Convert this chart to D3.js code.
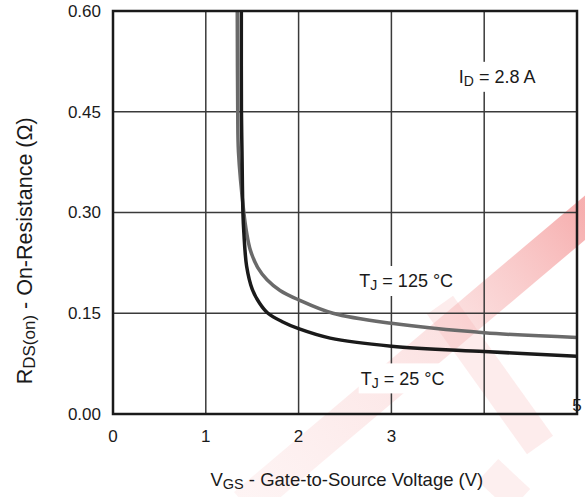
<!DOCTYPE html>
<meta charset="utf-8">
<script src="https://d3js.org/d3.v7.min.js"></script>
<style>
  body { margin: 0; background: #fff; }
  text { font-family: "Liberation Sans", Arial, sans-serif; fill: #1a1a1a; }
</style>
<div id="my_dataviz"></div>
<script>

// data
var vgsTicks = [0, 1, 2, 3, 4, 5];
var vgsTickLabels = ["0", "1", "2", "3", "", "5"];
var rTicks = [0, 0.15, 0.30, 0.45, 0.60];
var rTickLabels = ["0.00", "0.15", "0.30", "0.45", "0.60"];

// T_J = 25 °C  [VGS, RDS(on)]
var curve25 = [[1.383, 0.60], [1.384, 0.45], [1.39, 0.39], [1.40, 0.30], [1.41, 0.27],
  [1.44, 0.22], [1.50, 0.186], [1.58, 0.165], [1.67, 0.150], [1.83, 0.137],
  [2.0, 0.127], [2.34, 0.113], [3.0, 0.101], [4.0, 0.093], [5.0, 0.086]];
// T_J = 125 °C
var curve125 = [[1.339, 0.60], [1.344, 0.45], [1.352, 0.39], [1.41, 0.30], [1.44, 0.27],
  [1.48, 0.244], [1.56, 0.218], [1.66, 0.200], [1.80, 0.184], [2.0, 0.170],
  [2.37, 0.150], [3.0, 0.135], [4.0, 0.121], [5.0, 0.114]];

var labels = [
  {main: "I", sub: "D", rest: " = 2.8  A", v: 4.14, r: 0.502},
  {main: "T", sub: "J", rest: " = 125 °C", v: 3.16, r: 0.198},
  {main: "T", sub: "J", rest: " = 25 °C", v: 3.12, r: 0.053}
];

var margin = {top: 11, right: 8, bottom: 83, left: 113},
  width = 585 - margin.left - margin.right,
  height = 497 - margin.top - margin.bottom;

var root = d3.select("#my_dataviz")
  .append("svg")
  .attr("width", 585)
  .attr("height", 497);

// faint watermark in the background
var defs = root.append("defs");
var grad = defs.append("linearGradient")
  .attr("id", "wm")
  .attr("gradientUnits", "userSpaceOnUse")
  .attr("x1", 250).attr("y1", 497).attr("x2", 585).attr("y2", 215);
grad.append("stop").attr("offset", 0).attr("stop-color", "#f6b4b4").attr("stop-opacity", 0.15);
grad.append("stop").attr("offset", 0.6).attr("stop-color", "#f29090").attr("stop-opacity", 0.27);
grad.append("stop").attr("offset", 1).attr("stop-color", "#ee6060").attr("stop-opacity", 0.5);

var wm = root.append("g");
wm.append("line")
  .attr("x1", 245).attr("y1", 505).attr("x2", 600).attr("y2", 205)
  .attr("stroke", "url(#wm)").attr("stroke-width", 34);
wm.append("line")
  .attr("x1", 440).attr("y1", 305).attr("x2", 540).attr("y2", 445)
  .attr("stroke", "#f4a8a8").attr("stroke-opacity", 0.22).attr("stroke-width", 32);
wm.append("line")
  .attr("x1", 488).attr("y1", 470).attr("x2", 520).attr("y2", 500)
  .attr("stroke", "#f4b0b0").attr("stroke-opacity", 0.2).attr("stroke-width", 30);

var svg = root.append("g")
  .attr("transform", "translate(" + margin.left + "," + margin.top + ")");

var x = d3.scaleLinear().domain([0, 5]).range([0, width]);
var y = d3.scaleLinear().domain([0, 0.6]).range([height, 0]);

// grid
svg.selectAll(".vgrid")
  .data(vgsTicks.slice(1, -1))
  .enter().append("line")
  .attr("x1", function(d) { return x(d); })
  .attr("x2", function(d) { return x(d); })
  .attr("y1", 0).attr("y2", height)
  .attr("stroke", "#3a3a3a").attr("stroke-width", 1.5);

svg.selectAll(".hgrid")
  .data(rTicks.slice(1, -1))
  .enter().append("line")
  .attr("x1", 0).attr("x2", width)
  .attr("y1", function(d) { return y(d); })
  .attr("y2", function(d) { return y(d); })
  .attr("stroke", "#3a3a3a").attr("stroke-width", 1.5);

// curves
svg.append("clipPath").attr("id", "plotclip")
  .append("rect").attr("width", width).attr("height", height);

var line = d3.line()
  .x(function(d) { return x(d[0]); })
  .y(function(d) { return y(d[1]); })
  .curve(d3.curveCatmullRom.alpha(0.5));

svg.append("path")
  .datum(curve125)
  .attr("d", line)
  .attr("clip-path", "url(#plotclip)")
  .attr("fill", "none")
  .attr("stroke", "#6a6a6a")
  .attr("stroke-width", 3.5);

svg.append("path")
  .datum(curve25)
  .attr("d", line)
  .attr("clip-path", "url(#plotclip)")
  .attr("fill", "none")
  .attr("stroke", "#1a1a1a")
  .attr("stroke-width", 3.5);

// frame
svg.append("rect")
  .attr("width", width).attr("height", height)
  .attr("fill", "none")
  .attr("stroke", "#1a1a1a")
  .attr("stroke-width", 2.5);

// annotations, white box breaks the grid line behind them
labels.forEach(function(l) {
  var g = svg.append("g");
  var bg = g.append("rect").attr("fill", "#fff");
  var t = g.append("text")
    .attr("x", x(l.v)).attr("y", y(l.r))
    .attr("dy", "0.35em")
    .attr("text-anchor", "middle")
    .style("font-size", "18px");
  t.append("tspan").text(l.main);
  t.append("tspan").text(l.sub).attr("dy", 3).style("font-size", "14px");
  t.append("tspan").text(l.rest).attr("dy", -3);
  var b = t.node().getBBox();
  bg.attr("x", b.x - 2).attr("y", y(l.r) - 15)
    .attr("width", b.width + 4).attr("height", 30);
});

// tick labels
svg.selectAll(".ylab")
  .data(rTicks)
  .enter().append("text")
  .attr("x", -12)
  .attr("y", function(d) { return y(d); })
  .attr("dy", "0.35em")
  .attr("text-anchor", "end")
  .style("font-size", "17px")
  .text(function(d, i) { return rTickLabels[i]; });

svg.selectAll(".xlab")
  .data(vgsTicks)
  .enter().append("text")
  .attr("x", function(d) { return x(d); })
  .attr("y", function(d) { return d === 5 ? height - 9 : height + 22; })
  .attr("dy", "0.35em")
  .attr("text-anchor", "middle")
  .style("font-size", "17px")
  .text(function(d, i) { return vgsTickLabels[i]; });

// axis titles
var xt = svg.append("text")
  .attr("x", x(2.52)).attr("y", height + 72)
  .attr("text-anchor", "middle")
  .style("font-size", "18.5px");
xt.append("tspan").text("V");
xt.append("tspan").text("GS").attr("dy", 3).style("font-size", "14.5px");
xt.append("tspan").text(" - Gate-to-Source Voltage (V)").attr("dy", -3);

var yt = svg.append("text")
  .attr("transform", "translate(" + (-81) + "," + y(0.243) + ") rotate(-90)")
  .attr("text-anchor", "middle")
  .style("font-size", "21.5px");
yt.append("tspan").text("R");
yt.append("tspan").text("DS(on)").attr("dy", 3).style("font-size", "17px");
yt.append("tspan").text(" - On-Resistance (Ω)").attr("dy", -3);

</script>
